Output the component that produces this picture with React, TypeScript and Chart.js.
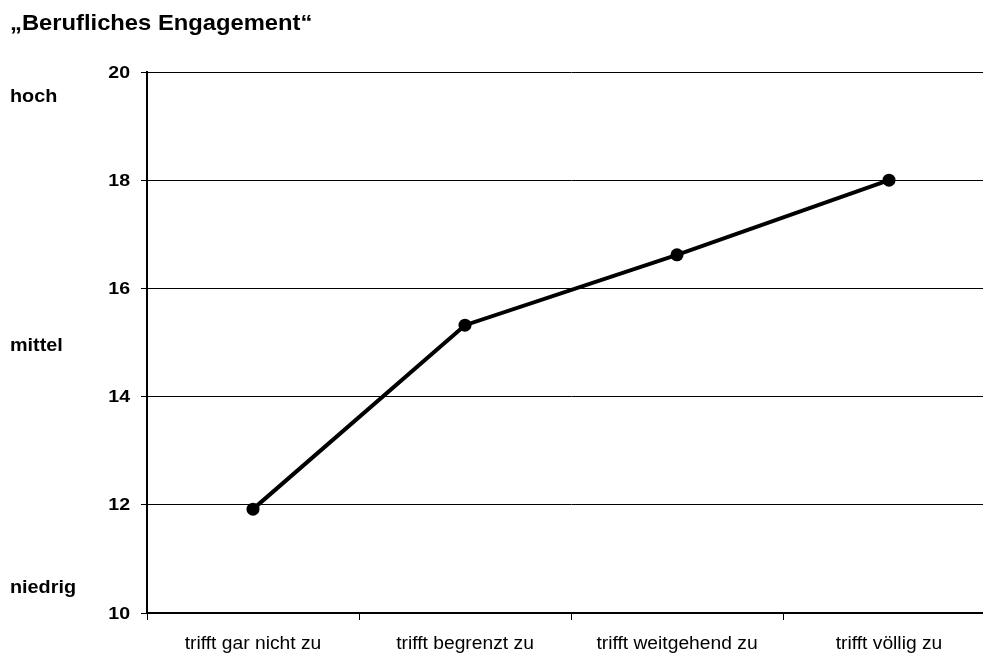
import React, { useEffect, useRef } from "react";
import { Chart, registerables } from "chart.js";

Chart.register(...registerables);

const TITLE = "„Berufliches Engagement“";
const categories = ["trifft gar nicht zu", "trifft begrenzt zu", "trifft weitgehend zu", "trifft völlig zu"];
const engagement = [11.92, 15.32, 16.62, 18.0];
const yTickValues = [10, 12, 14, 16, 18, 20];
const levelLabels = ["hoch", "mittel", "niedrig"];
const levelValues = [19.45, 14.85, 10.37];

const FONT = '"Liberation Sans", Arial, Helvetica, sans-serif';

function drawText(
  ctx: CanvasRenderingContext2D,
  text: string,
  x: number,
  y: number,
  font: string,
  align: CanvasTextAlign,
  baseline: CanvasTextBaseline,
  sx: number
) {
  ctx.save();
  ctx.translate(x, y);
  ctx.scale(sx, 1);
  ctx.font = font;
  ctx.textAlign = align;
  ctx.textBaseline = baseline;
  ctx.fillStyle = "#000";
  ctx.fillText(text, 0, 0);
  ctx.restore();
}

const textPlugin = {
  id: "textPlugin",
  afterDraw(chart: any) {
    const ctx = chart.ctx as CanvasRenderingContext2D;
    const xs = chart.scales.x;
    const ys = chart.scales.y;
    drawText(ctx, TITLE, 10, 30, `bold 22px ${FONT}`, "left", "alphabetic", 1.08);
    yTickValues.forEach((v) =>
      drawText(ctx, String(v), 130, ys.getPixelForValue(v) + 1, `bold 17px ${FONT}`, "right", "middle", 1.15)
    );
    categories.forEach((c, i) =>
      drawText(ctx, c, xs.getPixelForValue(i), 649, `17.5px ${FONT}`, "center", "alphabetic", 1.1)
    );
    levelLabels.forEach((l, i) =>
      drawText(ctx, l, 10, ys.getPixelForValue(levelValues[i]), `bold 18.5px ${FONT}`, "left", "alphabetic", 1.07)
    );
  },
};

export default function App() {
  const ref = useRef<HTMLCanvasElement | null>(null);

  useEffect(() => {
    if (!ref.current) return;
    const chart = new Chart(ref.current, {
      type: "line",
      data: {
        labels: categories,
        datasets: [
          {
            data: engagement,
            borderColor: "#000",
            backgroundColor: "#000",
            borderWidth: 4,
            pointRadius: 6.5,
            pointBackgroundColor: "#000",
            pointBorderWidth: 0,
            tension: 0,
            fill: false,
          },
        ],
      },
      options: {
        animation: false,
        responsive: false,
        events: [],
        layout: { autoPadding: false, padding: { top: 72, left: 0, right: 0, bottom: 0 } },
        plugins: {
          legend: { display: false },
          tooltip: { enabled: false },
          title: { display: false },
        },
        scales: {
          x: {
            type: "category",
            offset: true,
            grid: {
              offset: true,
              drawOnChartArea: false,
              drawTicks: true,
              tickLength: 7,
              tickColor: "#000",
              color: "#000",
              lineWidth: 1,
            },
            border: { display: true, color: "#000", width: 2 },
            ticks: { display: false },
            afterFit: (s: any) => {
              s.height = 44;
            },
          },
          y: {
            min: 10,
            max: 20,
            ticks: { stepSize: 2, display: false },
            grid: {
              color: "#000",
              lineWidth: 1,
              drawTicks: true,
              tickLength: 6,
              tickColor: "#000",
            },
            border: { display: true, color: "#000", width: 2 },
            afterFit: (s: any) => {
              s.width = 147;
            },
          },
        },
      },
      plugins: [textPlugin],
    });
    return () => chart.destroy();
  }, []);

  return (
    <div
      style={{
        position: "fixed",
        left: 0,
        top: 0,
        width: 983,
        height: 657,
        overflow: "hidden",
        background: "#fff",
      }}
    >
      <canvas ref={ref} width={995} height={657} style={{ display: "block" }} />
    </div>
  );
}
